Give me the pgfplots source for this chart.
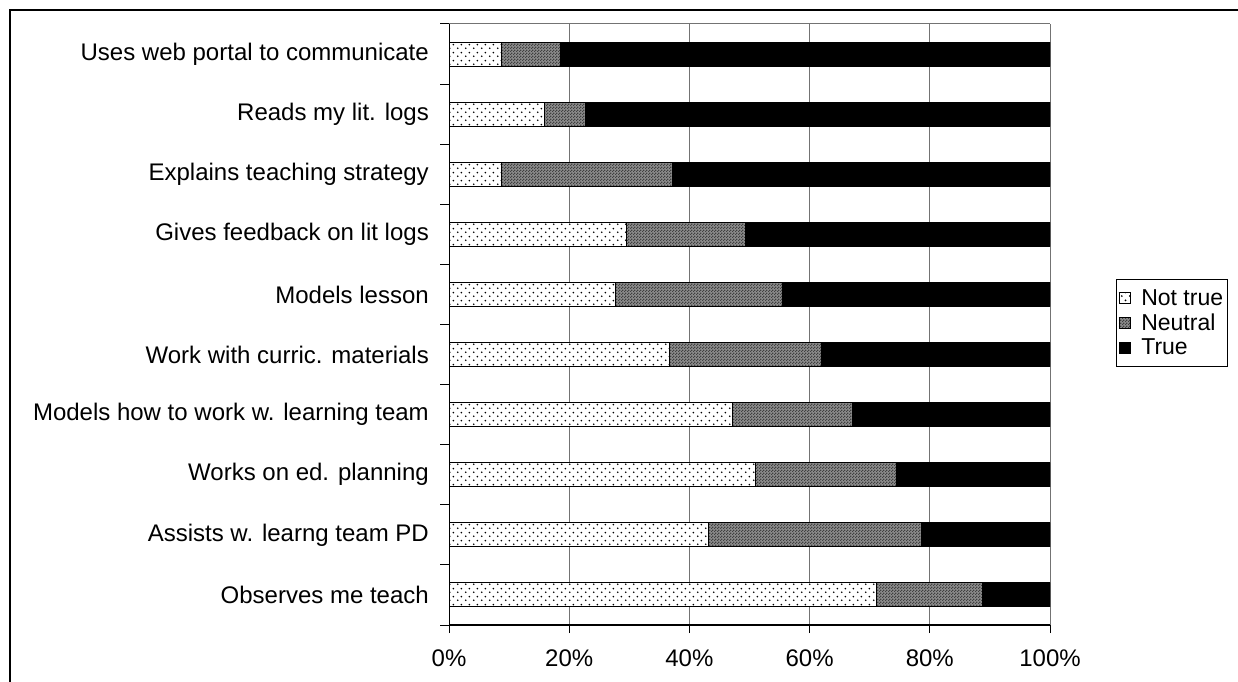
\documentclass[border=0pt]{standalone}
\usepackage{pgfplots}
\pgfplotsset{compat=1.18}
\usepackage{pgfplotstable}
\usepackage{fontspec}
\setmainfont{Liberation Sans}
\usetikzlibrary{patterns,patterns.meta}

\pgfdeclarepattern{
  name=sparsedots, type=uncolored,
  bottom left={\pgfpointorigin}, top right={\pgfpoint{8pt}{8pt}},
  tile size={\pgfpoint{8pt}{8pt}},
  code={\pgfpathcircle{\pgfpoint{2pt}{2pt}}{1.05pt}\pgfpathcircle{\pgfpoint{6pt}{6pt}}{1.05pt}\pgfusepath{fill}}
}
\pgfdeclarepattern{
  name=finecheck, type=uncolored,
  bottom left={\pgfpointorigin}, top right={\pgfpoint{3pt}{3pt}},
  tile size={\pgfpoint{3pt}{3pt}},
  code={\pgfpathrectangle{\pgfpointorigin}{\pgfpoint{1.5pt}{1.5pt}}\pgfpathrectangle{\pgfpoint{1.5pt}{1.5pt}}{\pgfpoint{1.5pt}{1.5pt}}\pgfusepath{fill}}
}

\pgfplotstableread{
y nottrue neutral true
0 71.1 17.7 11.2
1 43.2 35.5 21.3
2 51.0 23.4 25.6
3 47.1 20.1 32.8
4 36.7 25.3 38.0
5 27.7 27.8 44.5
6 29.6 19.8 50.6
7 8.8 28.4 62.8
8 15.9 6.8 77.3
9 8.8 9.7 81.5
}\data

\begin{document}
\begin{tikzpicture}[x=1pt,y=1pt]
\useasboundingbox (0,0) rectangle (1238,681);
\draw[line width=2pt] (10,-5) -- (10,670.5) -- (1245,670.5);
\begin{axis}[
  at={(449pt,56pt)}, anchor=south west,
  scale only axis, width=601pt, height=601pt,
  xbar stacked, bar width=24pt,
  xmin=0, xmax=100, ymin=-0.5, ymax=9.5,
  axis line style={draw=none},
  xtick={0,20,40,60,80,100},
  xticklabels={0\%,20\%,40\%,60\%,80\%,100\%},
  xtick pos=lower, ytick pos=left,
  tick align=outside,
  major tick length=8pt,
  x tick style={black, line width=1pt},
  xticklabel style={font=\fontsize{24}{28}\selectfont, inner sep=0pt, yshift=-17pt},
  ytick={0,...,9},
  yticklabels={Observes me teach, Assists w. learng team PD, Works on ed. planning, Models how to work w. learning team, Work with curric. materials, Models lesson, Gives feedback on lit logs, Explains teaching strategy, Reads my lit. logs, Uses web portal to communicate},
  y tick style={draw=none},
  minor ytick={-0.5,0.5,...,9.5},
  minor y tick style={draw=black, line width=1pt},
  minor tick length=9pt,
  yticklabel style={font=\fontsize{24}{28}\selectfont, inner sep=0pt, xshift=-12pt},
  xmajorgrids, major grid style={draw=black!55, line width=1pt},
  legend style={at={(1.1098,0.5025)}, anchor=west, draw=black, line width=1pt,
    font=\fontsize{23}{27}\selectfont, inner xsep=2pt, inner ysep=8pt, row sep=3pt,
    /tikz/every odd column/.append style={column sep=9pt}},
  legend cell align=left,
  legend image code/.code={\draw[#1, draw=black, line width=0.8pt] (5pt,-5.5pt) rectangle (16pt,5.5pt);},
]
\addplot[draw=black, line width=1pt, fill=white, postaction={pattern=sparsedots, pattern color=black}] table[x=nottrue, y=y]{\data};
\addplot[draw=black, line width=1pt, fill=black!45, postaction={pattern=finecheck, pattern color=black!75}] table[x=neutral, y=y]{\data};
\addplot[draw=black, line width=1pt, fill=black] table[x=true, y=y]{\data};
\legend{Not true, Neutral, True}
\draw[black, line width=1.5pt] (rel axis cs:0,0) -- (rel axis cs:0,1);
\draw[black, line width=1.5pt] (rel axis cs:0,0) -- (rel axis cs:1,0);
\draw[black!55, line width=1pt] (rel axis cs:0,1) -- (rel axis cs:1,1);
\end{axis}
\end{tikzpicture}
\end{document}
